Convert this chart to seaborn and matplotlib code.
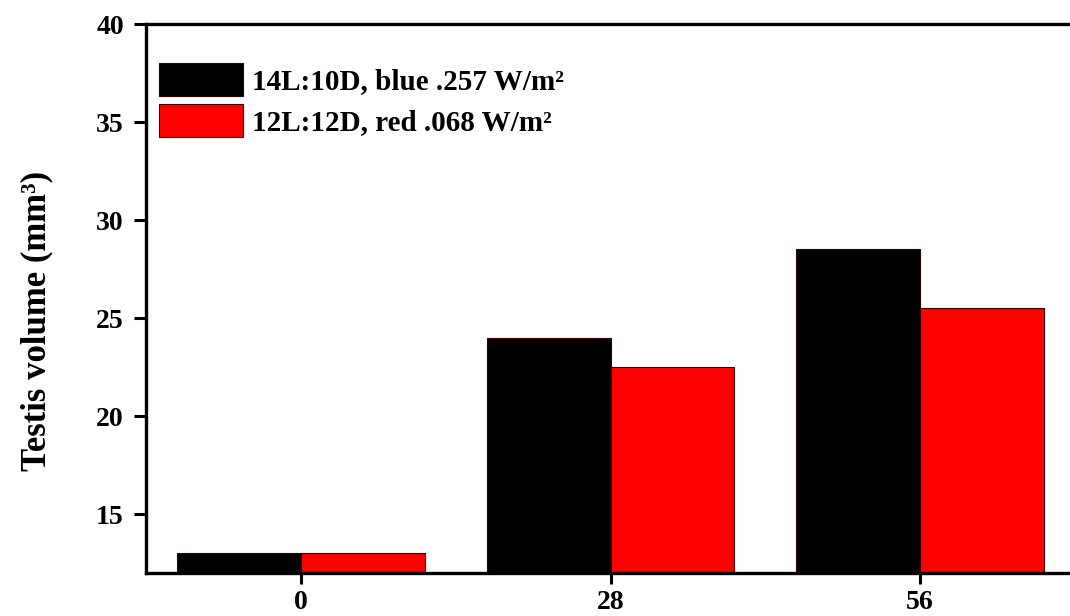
import pandas as pd
import seaborn as sns
import matplotlib.pyplot as plt

# Values
days = ["0", "28", "56"]
series_names = ["14L:10D, blue .257 W/m²", "12L:12D, red .068 W/m²"]
blue_light = [13.0, 24.0, 28.5]
red_light = [13.0, 22.5, 25.5]

df = pd.DataFrame({
    "day": days * 2,
    "volume": blue_light + red_light,
    "group": [series_names[0]] * 3 + [series_names[1]] * 3,
})

sns.set_style("ticks")
plt.rcParams['font.family'] = ['Liberation Serif', 'DejaVu Serif']
plt.rcParams['font.weight'] = 'bold'
plt.rcParams['text.color'] = 'black'
plt.rcParams['axes.labelcolor'] = 'black'
plt.rcParams['xtick.color'] = 'black'
plt.rcParams['ytick.color'] = 'black'

fig = plt.figure(figsize=(10.7, 6.16), dpi=100)
ax = fig.add_axes([146 / 1070, 43 / 616, 929 / 1070, 549 / 616])

sns.barplot(data=df, x="day", y="volume", hue="group", order=days,
            hue_order=series_names, palette=["#000000", "#ff0000"],
            saturation=1, width=0.8, edgecolor="#3a0000", linewidth=0.8, ax=ax)

ax.set_xlim(-0.5, 2.5)
ax.set_ylim(12, 40)
ax.set_yticks([15, 20, 25, 30, 35, 40])
ax.set_xlabel("")
ax.set_ylabel("Testis volume (mm³)", fontsize=25, fontweight='bold')
ax.yaxis.set_label_coords(-0.1, 0.46)

for side in ["left", "bottom", "top"]:
    ax.spines[side].set_linewidth(2.4)
    ax.spines[side].set_color("black")
ax.spines["right"].set_visible(False)
ax.tick_params(axis='y', direction='out', length=9, width=2.2, labelsize=20, pad=7)
ax.tick_params(axis='x', direction='out', length=8, width=2.2, labelsize=20, pad=4)
for lab in ax.get_xticklabels() + ax.get_yticklabels():
    lab.set_fontweight('bold')

leg = ax.legend(loc="upper left", bbox_to_anchor=(0.001, 0.95), frameon=False,
                fontsize=21, handlelength=2.9, handleheight=1.38,
                labelspacing=0.25, handletextpad=0.3, borderaxespad=0)
for t in leg.get_texts():
    t.set_fontweight('bold')

plt.savefig("out.png", dpi=100)
